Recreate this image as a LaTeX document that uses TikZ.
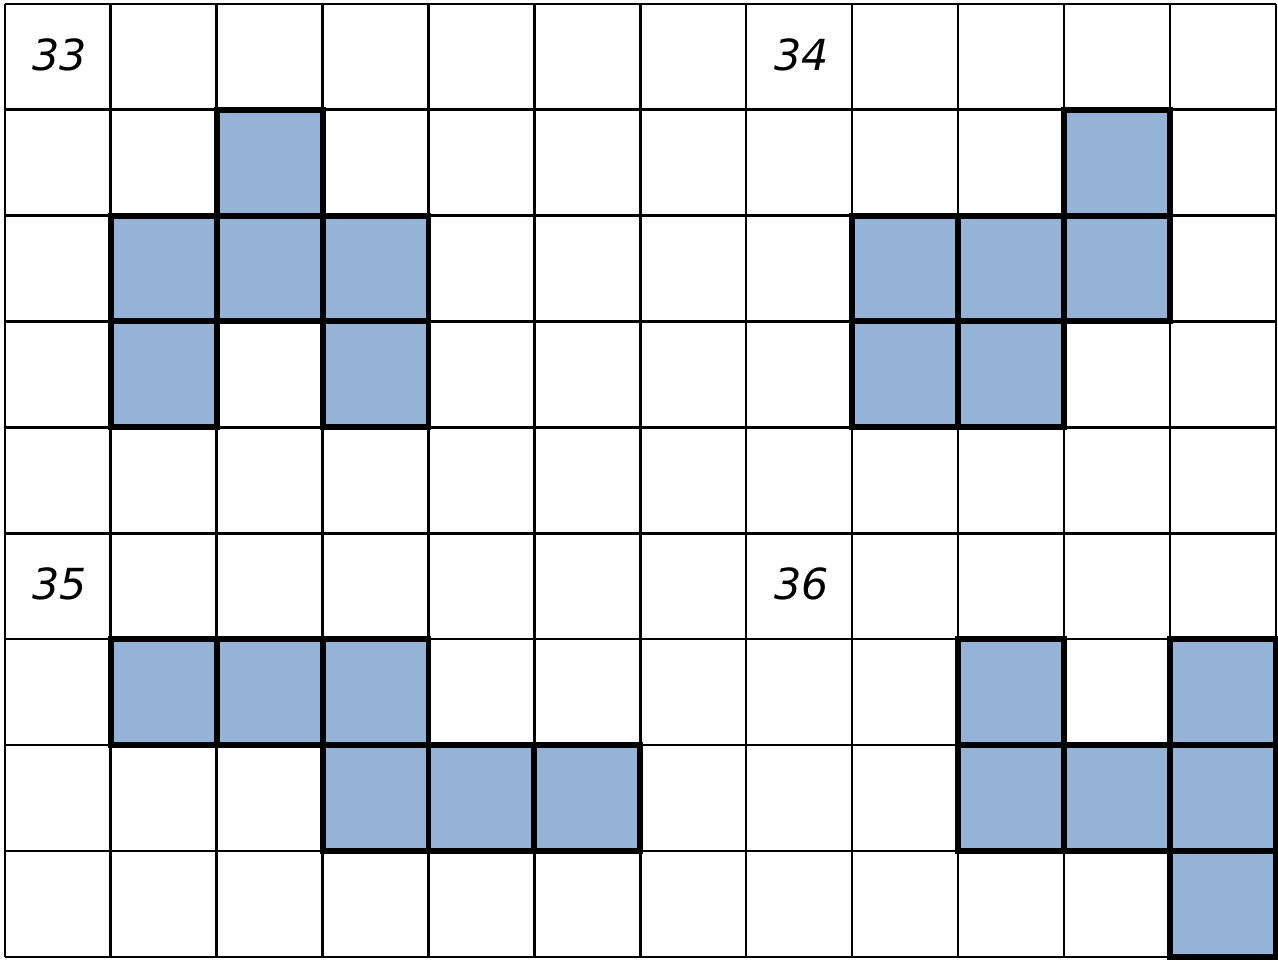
\documentclass[tikz,border=0pt]{standalone}
\usepackage{fontspec}
\newfontfamily\lblfont{DejaVu Sans}
\definecolor{tileblue}{HTML}{95B3D7}
\tikzset{
  tile/.style={fill=tileblue, draw=black, line width=1.6pt},
  num/.style={font=\lblfont\itshape\fontsize{11.5}{13}\selectfont},
}
\begin{document}
\begin{tikzpicture}
    \useasboundingbox (-0.045,-0.03) rectangle (12.02,9.035);
    % background grid: 12 columns, 9 rows
    \draw[line width=0.65pt] (0,0) grid (12,9);
    % shape 33
    \foreach \c/\r in {2/7, 1/6, 2/6, 3/6, 1/5, 3/5} {
        \draw[tile] (\c,\r) rectangle ++(1,1);
    }
    % shape 34
    \foreach \c/\r in {10/7, 8/6, 9/6, 10/6, 8/5, 9/5} {
        \draw[tile] (\c,\r) rectangle ++(1,1);
    }
    % shape 35
    \foreach \c/\r in {1/2, 2/2, 3/2, 3/1, 4/1, 5/1} {
        \draw[tile] (\c,\r) rectangle ++(1,1);
    }
    % shape 36
    \foreach \c/\r in {9/2, 11/2, 9/1, 10/1, 11/1, 11/0} {
        \draw[tile] (\c,\r) rectangle ++(1,1);
    }
    % numbers
    \node[num] (n33) at (0.52,8.52) {33};
    \node[num] (n34) at (7.52,8.52) {34};
    \node[num] (n35) at (0.52,3.52) {35};
    \node[num] (n36) at (7.52,3.52) {36};
\end{tikzpicture}
\end{document}
